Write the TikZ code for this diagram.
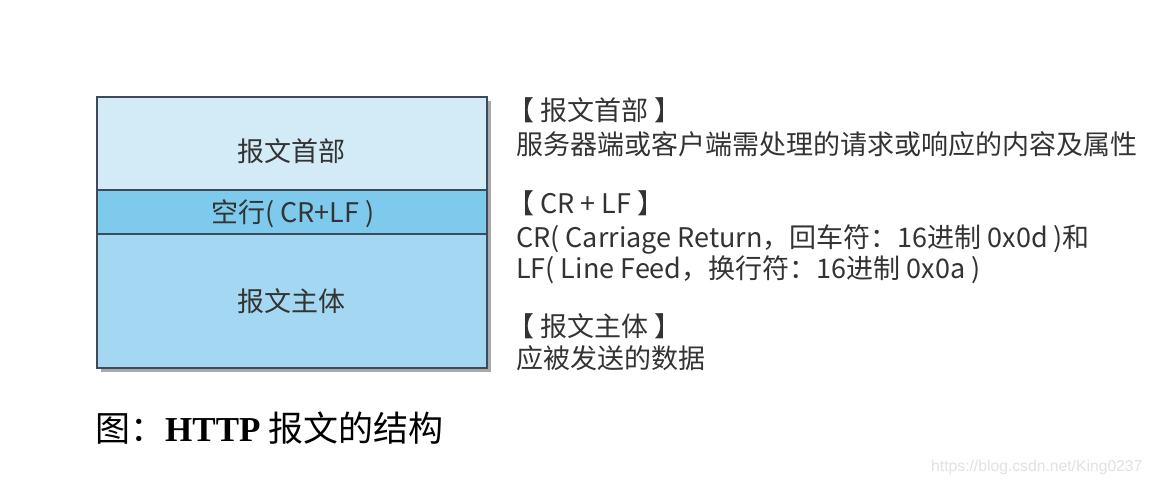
\documentclass[tikz,border=0pt]{standalone}
\usepackage{fontspec}
\setmainfont{Noto Sans CJK SC}
\newfontfamily\capser{Liberation Serif}
\newfontfamily\wmfont{Liberation Sans}
\definecolor{topfill}{HTML}{D3EBF7}
\definecolor{midfill}{HTML}{7DCAEC}
\definecolor{botfill}{HTML}{A4D8F2}
\definecolor{edge}{HTML}{3C4B57}
\definecolor{txt}{HTML}{333333}
\definecolor{shadowc}{HTML}{A8A8A8}
\definecolor{wm}{HTML}{E2E2E2}
\tikzset{
  part/.style={draw=edge, line width=1.3pt},
  boxtext/.style={font=\fontsize{27}{31}\selectfont, text=txt, inner sep=0pt},
  desc/.style={font=\fontsize{27}{31}\selectfont, text=txt, anchor=base west, inner sep=0pt},
}
\begin{document}
\begin{tikzpicture}[x=1pt,y=-1pt]
\useasboundingbox (0,0) rectangle (1155,482);
\fill[white] (0,0) rectangle (1155,482);
% shadow
\fill[shadowc] (101,101) rectangle (491,372);
% parts
\fill[topfill] (97,97) rectangle (487,190);
\fill[midfill] (97,190) rectangle (487,234);
\fill[botfill] (97,234) rectangle (487,368);
\draw[part] (97,97) rectangle (487,368);
\draw[part] (97,190) -- (487,190);
\draw[part] (97,234) -- (487,234);
\node[boxtext] (head) at (291,151) {报文首部};
\node[boxtext] (crlf) at (293,214) {空行( CR+LF )};
\node[boxtext] (body) at (291,301) {报文主体};
% descriptions
\node[desc] (d1) at (507,120) {【 报文首部 】};
\node[desc] (d2) at (516,154) {服务器端或客户端需处理的请求或响应的内容及属性};
\node[desc] (d3) at (507,213) {【 CR + LF 】};
\node[desc] (d4) at (516,247) {CR( Carriage Return，回车符：16进制 0x0d )和};
\node[desc] (d5) at (516,278) {LF( Line Feed，换行符：16进制 0x0a )};
\node[desc] (d6) at (507,336) {【 报文主体 】};
\node[desc] (d7) at (516,368) {应被发送的数据};
% caption
\node[anchor=base west, inner sep=0pt, font=\fontsize{35}{41}\selectfont] (cap) at (95,441) {图：{\capser\bfseries HTTP} 报文的结构};
% watermark
\node[anchor=base west, inner sep=0pt, text=wm, font=\wmfont\fontsize{15.7}{18}\selectfont] (wmk) at (931,471) {https://blog.csdn.net/King0237};
\end{tikzpicture}
\end{document}
